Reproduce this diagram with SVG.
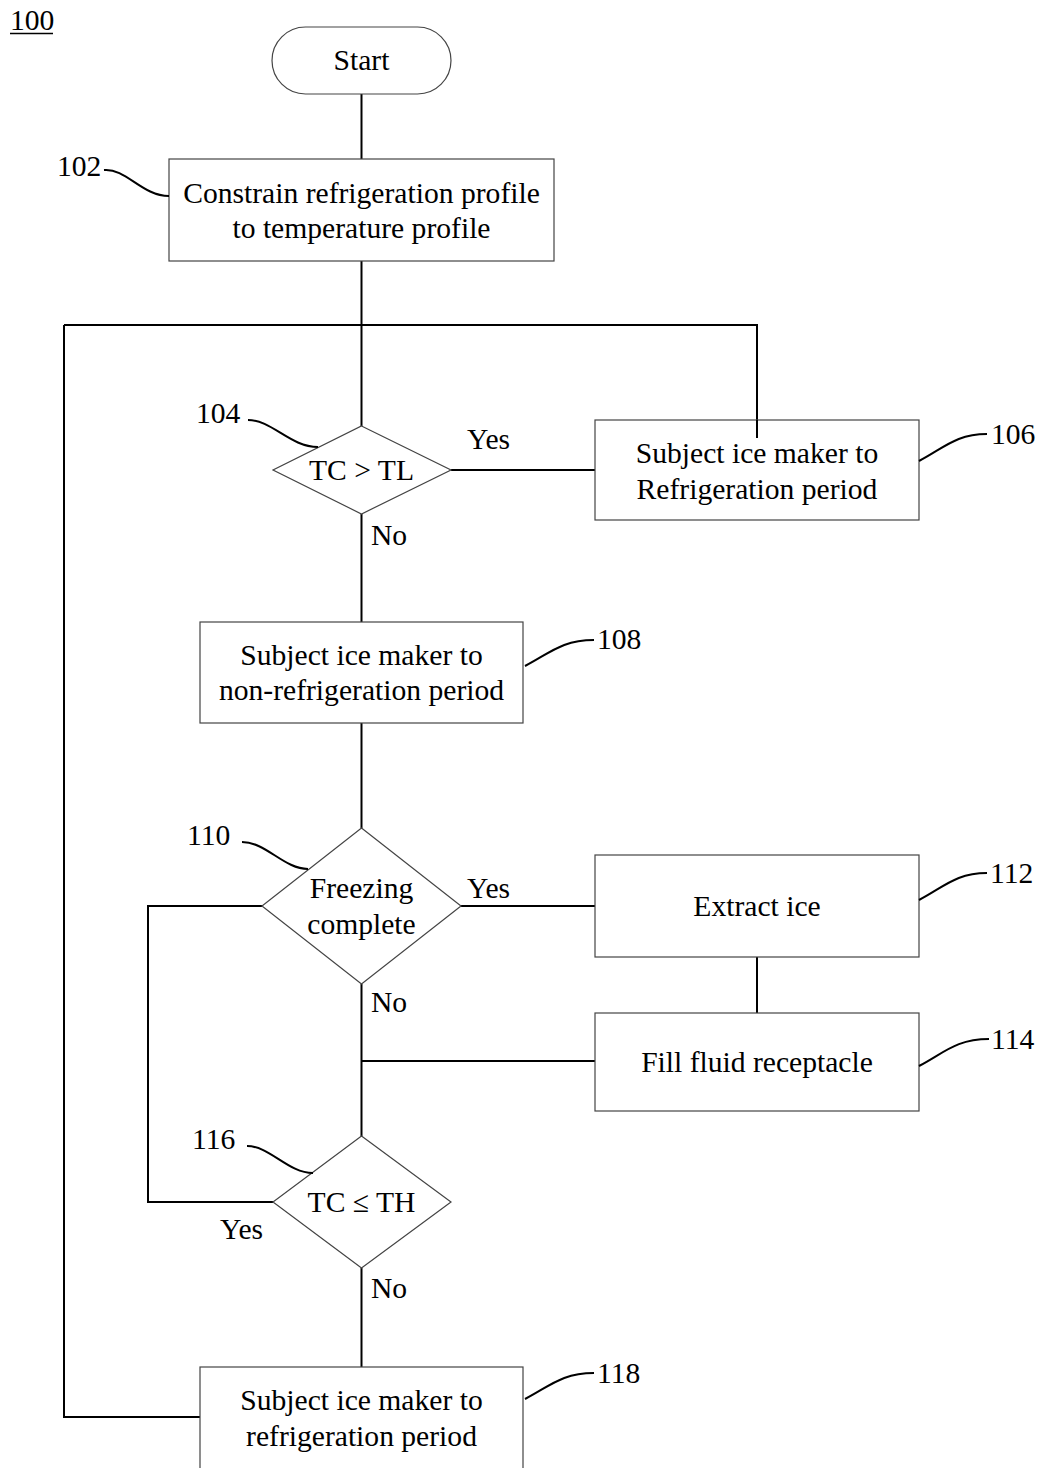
<svg xmlns="http://www.w3.org/2000/svg" width="1042" height="1468" viewBox="0 0 1042 1468">
<style>
text{font-family:"Liberation Serif","Times New Roman",serif;font-size:29.6px;fill:#000}
.c{text-anchor:middle}
.box{fill:#fff;stroke:#444;stroke-width:1.2}
.ln{fill:none;stroke:#000;stroke-width:2}
.ld{fill:none;stroke:#000;stroke-width:2}
</style>
<rect width="1042" height="1468" fill="#fff"/>
<g id="fig-label">
<text x="10" y="30">100</text>
<line x1="10" y1="33.5" x2="53" y2="33.5" stroke="#000" stroke-width="1.5"/>
</g>
<g id="connectors">
<path class="ln" d="M361.5,94 V159"/>
<path class="ln" d="M361.5,261 V426"/>
<path class="ln" d="M64,325 H757 V438"/>
<path class="ln" d="M451,470 H595"/>
<path class="ln" d="M361.5,514 V622"/>
<path class="ln" d="M361.5,723 V828"/>
<path class="ln" d="M461,906 H595"/>
<path class="ln" d="M757,957 V1013"/>
<path class="ln" d="M595,1061 H361.5"/>
<path class="ln" d="M361.5,984 V1136"/>
<path class="ln" d="M262,906 H148 V1202 H273"/>
<path class="ln" d="M361.5,1268 V1367"/>
<path class="ln" d="M200,1417 H64 V325"/>
<text x="467" y="449">Yes</text>
<text x="371" y="545">No</text>
<text x="467" y="898">Yes</text>
<text x="371" y="1012">No</text>
<text x="220" y="1239">Yes</text>
<text x="371" y="1298">No</text>
</g>
<g id="start">
<rect class="box" x="272" y="27" width="179" height="67" rx="33.5" ry="33.5"/>
<text class="c" x="361.5" y="70">Start</text>
</g>
<g id="n102">
<rect class="box" x="169" y="159" width="385" height="102"/>
<text class="c" x="361.5" y="203">Constrain refrigeration profile</text>
<text class="c" x="361.5" y="238">to temperature profile</text>
<text x="57" y="176">102</text>
<path class="ld" d="M104,170 C126,168 142,196 169,196"/>
</g>
<g id="n104">
<polygon class="box" points="361.5,426 451,470 361.5,514 273,470"/>
<text class="c" x="361.5" y="480">TC &gt; TL</text>
<text x="196" y="423">104</text>
<path class="ld" d="M248,420 C272,420 290,447 318,447"/>
</g>
<g id="n106">
<rect class="box" x="595" y="420" width="324" height="100"/>
<path class="ln" d="M757,420 V438"/>
<text class="c" x="757" y="463">Subject ice maker to</text>
<text class="c" x="757" y="499">Refrigeration period</text>
<text x="991" y="444">106</text>
<path class="ld" d="M919,461 C944,448 956,434 987,434"/>
</g>
<g id="n108">
<rect class="box" x="200" y="622" width="323" height="101"/>
<text class="c" x="361.5" y="665">Subject ice maker to</text>
<text class="c" x="361.5" y="700">non-refrigeration period</text>
<text x="597" y="649">108</text>
<path class="ld" d="M525,666 C550,653 562,640 594,640"/>
</g>
<g id="n110">
<polygon class="box" points="361.5,828 461,906 361.5,984 262,906"/>
<text class="c" x="361.5" y="898">Freezing</text>
<text class="c" x="361.5" y="934">complete</text>
<text x="187" y="845">110</text>
<path class="ld" d="M242,842 C266,842 284,869 308,869"/>
</g>
<g id="n112">
<rect class="box" x="595" y="855" width="324" height="102"/>
<text class="c" x="757" y="916">Extract ice</text>
<text x="990" y="883">112</text>
<path class="ld" d="M919,900 C944,887 956,873 987,873"/>
</g>
<g id="n114">
<rect class="box" x="595" y="1013" width="324" height="98"/>
<text class="c" x="757" y="1072">Fill fluid receptacle</text>
<text x="991" y="1049">114</text>
<path class="ld" d="M919,1066 C944,1053 956,1039 989,1039"/>
</g>
<g id="n116">
<polygon class="box" points="361.5,1136 451,1202 361.5,1268 273,1202"/>
<text class="c" x="361.5" y="1212">TC ≤ TH</text>
<text x="192" y="1149">116</text>
<path class="ld" d="M247,1146 C270,1146 288,1173 313,1173"/>
</g>
<g id="n118">
<rect class="box" x="200" y="1367" width="323" height="130"/>
<text class="c" x="361.5" y="1410">Subject ice maker to</text>
<text class="c" x="361.5" y="1446">refrigeration period</text>
<text x="597" y="1383">118</text>
<path class="ld" d="M525,1399 C550,1386 562,1373 594,1373"/>
</g>
</svg>
